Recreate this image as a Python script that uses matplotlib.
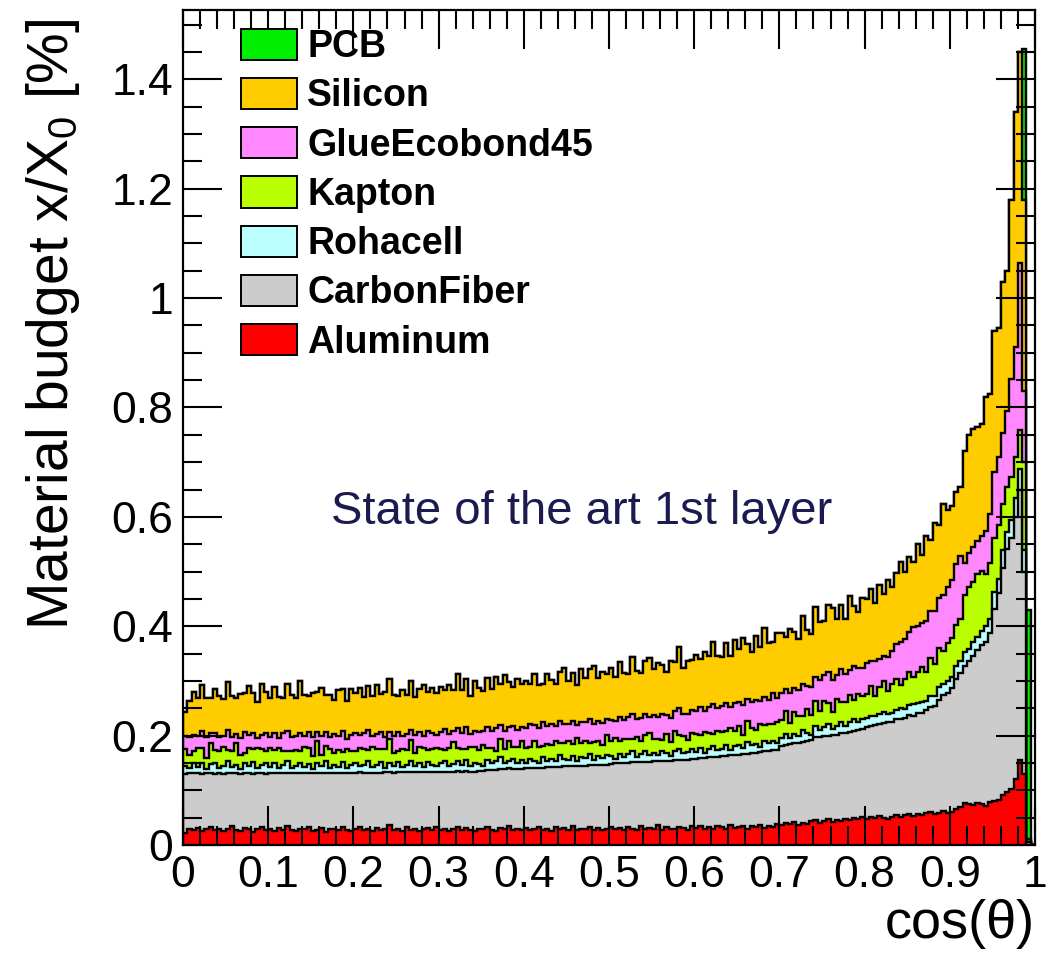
import numpy as np
import matplotlib.pyplot as plt
from matplotlib.patches import Patch
from matplotlib.ticker import MultipleLocator, FuncFormatter

plt.rcParams['font.family'] = ['Liberation Sans', 'DejaVu Sans']
plt.rcParams['mathtext.default'] = 'regular'

# 200 bins in cos(theta), layer thickness in units of 0.001 %
edges = np.linspace(0, 1, 201)

aluminum = [
    22, 30, 28, 31, 26, 29, 33, 27, 30, 25, 29, 34, 28, 26, 31, 29, 24, 30, 32, 27,
    29, 26, 31, 28, 35, 27, 25, 30, 29, 33, 26, 28, 31, 24, 29, 30, 27, 32, 28, 26,
    30, 33, 27, 29, 25, 31, 28, 30, 36, 27, 29, 26, 32, 28, 30, 25, 29, 31, 27, 33,
    28, 30, 26, 29, 32, 27, 31, 28, 25, 30, 29, 33, 28, 26, 31, 29, 34, 27, 30, 28,
    31, 27, 29, 33, 28, 30, 26, 32, 29, 31, 28, 35, 27, 30, 29, 32, 28, 31, 27, 30,
    32, 29, 31, 27, 33, 30, 28, 34, 29, 31, 30, 36, 28, 32, 30, 29, 33, 31, 28, 34,
    31, 35, 30, 33, 29, 34, 32, 30, 36, 31, 33, 35, 30, 34, 32, 37, 31, 35, 33, 38,
    36, 40, 38, 42, 37, 41, 39, 43, 45, 41, 44, 47, 42, 46, 44, 48, 45, 50, 47, 52,
    48, 51, 49, 53, 50, 47, 52, 55, 51, 54, 56, 53, 57, 55, 58, 60, 56, 59, 62, 58,
    61, 66, 70, 76, 74, 73, 77, 75, 72, 78, 80, 82, 92, 97, 102, 120, 155, 130, 0, 0]

carbon_fiber = [
    108, 101, 103, 100, 104, 102, 99, 103, 101, 105, 102, 98, 103, 104, 100, 102, 106, 101, 99, 103,
    102, 105, 100, 103, 97, 104, 106, 101, 103, 99, 105, 103, 100, 107, 102, 101, 104, 100, 103, 106,
    102, 100, 105, 103, 107, 101, 104, 103, 97, 105, 104, 107, 101, 105, 103, 108, 104, 102, 106, 101,
    105, 104, 108, 105, 103, 107, 104, 106, 109, 105, 107, 104, 109, 111, 107, 110, 106, 112, 109, 111,
    109, 113, 111, 108, 113, 112, 116, 111, 114, 113, 116, 110, 117, 115, 116, 114, 118, 116, 120, 117,
    116, 120, 118, 122, 117, 121, 123, 118, 122, 121, 123, 118, 125, 122, 124, 126, 123, 125, 128, 123,
    127, 124, 129, 127, 131, 127, 130, 133, 128, 134, 132, 131, 137, 134, 137, 133, 140, 137, 140, 136,
    145, 142, 146, 144, 150, 147, 151, 149, 152, 157, 155, 153, 159, 156, 160, 157, 162, 158, 163, 160,
    168, 166, 171, 168, 173, 177, 172, 176, 180, 178, 181, 183, 185, 187, 189, 192, 198, 206, 212, 220,
    226, 238, 244, 252, 262, 272, 280, 290, 300, 310, 352, 378, 415, 445, 460, 480, 495, 370, 5, 0]

rohacell = [
    14, 10, 18, 12, 20, 8, 16, 19, 10, 14, 22, 11, 16, 9, 18, 13, 21, 10, 15, 19,
    12, 18, 9, 16, 21, 10, 14, 19, 11, 16, 7, 18, 13, 22, 10, 15, 12, 19, 9, 14,
    17, 11, 15, 21, 10, 14, 19, 8, 16, 12, 18, 10, 14, 21, 12, 16, 9, 18, 14, 10,
    16, 19, 10, 14, 18, 12, 21, 10, 16, 13, 8, 19, 12, 16, 22, 10, 14, 18, 11, 16,
    10, 18, 14, 8, 20, 12, 16, 10, 21, 14, 12, 18, 9, 16, 14, 20, 10, 16, 12, 18,
    14, 9, 18, 12, 16, 21, 10, 14, 20, 12, 16, 10, 18, 14, 8, 16, 20, 12, 14, 18,
    12, 18, 10, 16, 21, 12, 14, 20, 10, 16, 18, 12, 21, 14, 16, 10, 20, 14, 18, 12,
    15, 21, 11, 17, 13, 22, 15, 10, 20, 13, 17, 22, 11, 15, 21, 13, 17, 23, 14, 18,
    16, 19, 15, 18, 21, 16, 18, 15, 20, 17, 19, 22, 18, 20, 17, 21, 19, 23, 20, 22,
    21, 24, 22, 25, 23, 27, 24, 26, 28, 25, 30, 27, 32, 30, 33, 35, 38, 40, 0, 0]

kapton = [
    32, 24, 22, 34, 27, 20, 38, 25, 30, 35, 21, 28, 40, 26, 20, 33, 24, 37, 29, 22,
    34, 25, 38, 24, 18, 31, 28, 22, 37, 30, 24, 42, 21, 28, 35, 23, 30, 19, 36, 26,
    22, 33, 28, 20, 37, 30, 24, 34, 45, 25, 21, 32, 27, 38, 23, 30, 36, 22, 28, 34,
    26, 21, 33, 40, 24, 29, 19, 35, 30, 25, 38, 22, 29, 18, 33, 26, 37, 23, 30, 35,
    28, 22, 36, 31, 20, 30, 25, 38, 23, 29, 35, 21, 42, 26, 31, 20, 33, 28, 24, 37,
    29, 38, 23, 32, 27, 21, 36, 25, 31, 40, 24, 30, 21, 35, 27, 38, 25, 32, 22, 30,
    33, 25, 38, 29, 22, 36, 31, 26, 40, 28, 34, 24, 38, 31, 25, 41, 28, 35, 30, 39,
    33, 42, 28, 40, 35, 26, 44, 36, 46, 34, 48, 38, 32, 50, 37, 44, 50, 34, 52, 42,
    44, 54, 38, 50, 56, 42, 52, 58, 42, 55, 60, 50, 56, 64, 52, 68, 58, 72, 60, 70,
    70, 75, 78, 105, 112, 108, 115, 110, 95, 102, 100, 98, 85, 82, 78, 75, 70, 160, 0, 0]

glue = [
    23, 33, 30, 22, 31, 38, 18, 30, 26, 20, 36, 27, 16, 31, 38, 24, 30, 18, 27, 33,
    21, 31, 18, 33, 38, 25, 27, 33, 19, 28, 35, 16, 34, 26, 21, 34, 26, 38, 18, 29,
    34, 24, 29, 37, 20, 27, 32, 23, 12, 31, 34, 25, 29, 19, 33, 27, 21, 36, 29, 23,
    32, 38, 26, 20, 36, 30, 40, 24, 29, 34, 27, 38, 31, 42, 27, 34, 25, 37, 31, 26,
    35, 41, 29, 33, 43, 34, 38, 27, 40, 35, 31, 42, 25, 37, 34, 44, 32, 36, 40, 29,
    38, 31, 44, 36, 41, 47, 33, 42, 38, 30, 45, 40, 48, 35, 44, 36, 49, 39, 47, 42,
    42, 50, 38, 47, 54, 41, 47, 51, 38, 50, 44, 54, 41, 48, 55, 42, 52, 45, 56, 43,
    48, 40, 54, 44, 49, 58, 41, 51, 44, 57, 46, 56, 57, 43, 59, 51, 46, 62, 48, 52,
    56, 46, 63, 51, 45, 61, 61, 63, 78, 73, 73, 90, 84, 79, 93, 86, 97, 92, 103, 102,
    106, 110, 115, 58, 62, 65, 60, 64, 80, 90, 120, 125, 130, 140, 180, 200, 306, 130, 0, 0]

silicon = [
    45, 66, 78, 70, 84, 72, 64, 82, 75, 68, 88, 74, 66, 80, 71, 90, 73, 65, 92, 76,
    70, 83, 74, 64, 86, 77, 69, 95, 76, 66, 81, 73, 88, 68, 77, 63, 85, 78, 70, 84,
    73, 86, 67, 80, 74, 90, 69, 82, 98, 75, 66, 84, 72, 89, 70, 79, 93, 71, 83, 76,
    82, 72, 90, 76, 100, 78, 88, 70, 91, 80, 72, 89, 76, 94, 74, 102, 82, 71, 92, 79,
    86, 74, 93, 79, 70, 95, 80, 76, 90, 101, 77, 88, 73, 97, 81, 92, 106, 78, 94, 82,
    94, 80, 100, 85, 78, 104, 88, 82, 97, 108, 83, 99, 90, 79, 103, 89, 112, 85, 98, 91,
    102, 88, 108, 93, 115, 96, 89, 110, 94, 116, 97, 122, 100, 92, 118, 99, 126, 103, 95, 120,
    110, 96, 118, 102, 92, 124, 104, 97, 128, 106, 99, 122, 132, 104, 118, 100, 136, 110, 102, 128,
    118, 132, 106, 136, 114, 142, 116, 130, 146, 122, 138, 120, 150, 126, 156, 130, 160, 134, 166, 140,
    136, 132, 126, 204, 217, 215, 209, 205, 245, 220, 258, 235, 276, 256, 327, 430, 386, 350, 5, 0]

pcb = [0] * 197 + [275, 420, 0]

names = ['Aluminum', 'CarbonFiber', 'Rohacell', 'Kapton', 'GlueEcobond45', 'Silicon', 'PCB']
colors = ['#ff0000', '#cccccc', '#bbffff', '#b9ff00', '#ff88ff', '#ffcc00', '#00ee00']

layers = np.array([aluminum, carbon_fiber, rohacell, kapton, glue, silicon, pcb]) / 1000.0
tops = np.cumsum(layers, axis=0)

fig = plt.figure(figsize=(10.5, 9.66), dpi=100)
ax = fig.add_axes([0.1743, 0.1253, 0.8114, 0.8644])

# draw like a THStack: biggest first, each lower layer on top of it
for top, col in reversed(list(zip(tops, colors))):
    ax.stairs(top, edges, baseline=0, fill=True, facecolor=col,
              edgecolor='black', linewidth=1.7)

ax.set_xlim(0, 1)
ax.set_ylim(0, 1.527)
ax.xaxis.set_major_locator(MultipleLocator(0.1))
ax.xaxis.set_minor_locator(MultipleLocator(0.02))
ax.yaxis.set_major_locator(MultipleLocator(0.2))
ax.yaxis.set_minor_locator(MultipleLocator(0.05))
fmt = FuncFormatter(lambda v, p: '%g' % round(v, 2))
ax.xaxis.set_major_formatter(fmt)
ax.yaxis.set_major_formatter(fmt)
ax.tick_params(which='both', direction='in', top=True, right=True, width=1.5)
ax.tick_params(which='major', length=28, labelsize=32, pad=7)
ax.tick_params(which='minor', length=14)
for s in ax.spines.values():
    s.set_linewidth(1.6)

ax.set_ylabel(r'Material budget x/X$_0$ [%]', fontsize=41, loc='top')
ax.yaxis.set_label_coords(-0.119, 0.99)
ax.set_xlabel('cos(θ)', fontsize=39, loc='right')
ax.xaxis.set_label_coords(1.0, -0.065)

ax.text(0.468, 0.609, 'State of the art 1st layer', color='#1b1b4f',
        fontsize=34, ha='center', va='center')

handles = [Patch(facecolor=c, edgecolor='black', linewidth=1.4)
           for c in colors[::-1]]
ax.legend(handles, names[::-1], loc='upper left', bbox_to_anchor=(0.046, 1.0),
          frameon=False, borderpad=0, handlelength=1.49, handleheight=0.9,
          handletextpad=0.28, labelspacing=0.34,
          prop={'weight': 'bold', 'size': 27})

fig.savefig('out.png', dpi=100)
